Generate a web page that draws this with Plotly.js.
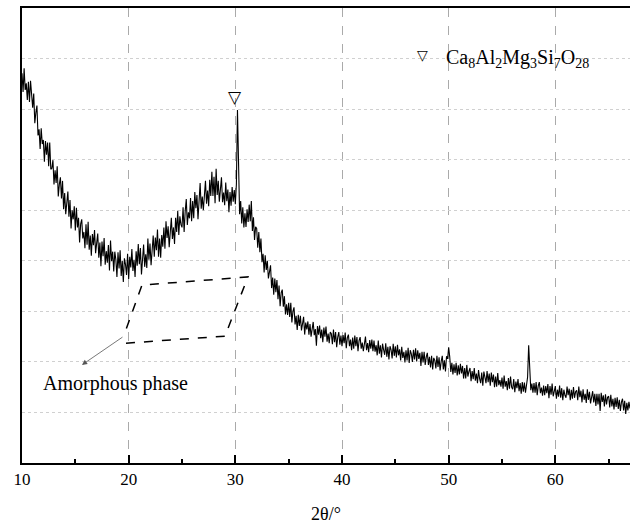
<!DOCTYPE html>
<html>
<head>
<meta charset="utf-8">
<script src="https://cdn.plot.ly/plotly-3.0.1.min.js"></script>
<style>html,body{margin:0;padding:0;background:#fff;}#chart{width:630px;height:524px;}</style>
</head>
<body>
<div id="chart"></div>
<script>
// 2θ (degrees), scan points
const twoTheta = [
10.0,10.1,10.2,10.3,10.4,10.5,10.6,10.7,10.8,10.9,
11.0,11.1,11.2,11.3,11.4,11.5,11.6,11.7,11.8,11.9,
12.0,12.1,12.2,12.3,12.4,12.5,12.6,12.7,12.8,12.9,
13.0,13.1,13.2,13.3,13.4,13.5,13.6,13.7,13.8,13.9,
14.0,14.1,14.2,14.3,14.4,14.5,14.6,14.7,14.8,14.9,
15.0,15.1,15.2,15.3,15.4,15.5,15.6,15.7,15.8,15.9,
16.0,16.1,16.2,16.3,16.4,16.5,16.6,16.7,16.8,16.9,
17.0,17.1,17.2,17.3,17.4,17.5,17.6,17.7,17.8,17.9,
18.0,18.1,18.2,18.3,18.4,18.5,18.6,18.7,18.8,18.9,
19.0,19.1,19.2,19.3,19.4,19.5,19.6,19.7,19.8,19.9,
20.0,20.1,20.2,20.3,20.4,20.5,20.6,20.7,20.8,20.9,
21.0,21.1,21.2,21.3,21.4,21.5,21.6,21.7,21.8,21.9,
22.0,22.1,22.2,22.3,22.4,22.5,22.6,22.7,22.8,22.9,
23.0,23.1,23.2,23.3,23.4,23.5,23.6,23.7,23.8,23.9,
24.0,24.1,24.2,24.3,24.4,24.5,24.6,24.7,24.8,24.9,
25.0,25.1,25.2,25.3,25.4,25.5,25.6,25.7,25.8,25.9,
26.0,26.1,26.2,26.3,26.4,26.5,26.6,26.7,26.8,26.9,
27.0,27.1,27.2,27.3,27.4,27.5,27.6,27.7,27.8,27.9,
28.0,28.1,28.2,28.3,28.4,28.5,28.6,28.7,28.8,28.9,
29.0,29.1,29.2,29.3,29.4,29.5,29.6,29.7,29.8,29.9,
30.0,30.1,30.2,30.3,30.4,30.5,30.6,30.7,30.8,30.9,
31.0,31.1,31.2,31.3,31.4,31.5,31.6,31.7,31.8,31.9,
32.0,32.1,32.2,32.3,32.4,32.5,32.6,32.7,32.8,32.9,
33.0,33.1,33.2,33.3,33.4,33.5,33.6,33.7,33.8,33.9,
34.0,34.1,34.2,34.3,34.4,34.5,34.6,34.7,34.8,34.9,
35.0,35.1,35.2,35.3,35.4,35.5,35.6,35.7,35.8,35.9,
36.0,36.1,36.2,36.3,36.4,36.5,36.6,36.7,36.8,36.9,
37.0,37.1,37.2,37.3,37.4,37.5,37.6,37.7,37.8,37.9,
38.0,38.1,38.2,38.3,38.4,38.5,38.6,38.7,38.8,38.9,
39.0,39.1,39.2,39.3,39.4,39.5,39.6,39.7,39.8,39.9,
40.0,40.1,40.2,40.3,40.4,40.5,40.6,40.7,40.8,40.9,
41.0,41.1,41.2,41.3,41.4,41.5,41.6,41.7,41.8,41.9,
42.0,42.1,42.2,42.3,42.4,42.5,42.6,42.7,42.8,42.9,
43.0,43.1,43.2,43.3,43.4,43.5,43.6,43.7,43.8,43.9,
44.0,44.1,44.2,44.3,44.4,44.5,44.6,44.7,44.8,44.9,
45.0,45.1,45.2,45.3,45.4,45.5,45.6,45.7,45.8,45.9,
46.0,46.1,46.2,46.3,46.4,46.5,46.6,46.7,46.8,46.9,
47.0,47.1,47.2,47.3,47.4,47.5,47.6,47.7,47.8,47.9,
48.0,48.1,48.2,48.3,48.4,48.5,48.6,48.7,48.8,48.9,
49.0,49.1,49.2,49.3,49.4,49.5,49.6,49.7,49.8,49.9,
50.0,50.1,50.2,50.3,50.4,50.5,50.6,50.7,50.8,50.9,
51.0,51.1,51.2,51.3,51.4,51.5,51.6,51.7,51.8,51.9,
52.0,52.1,52.2,52.3,52.4,52.5,52.6,52.7,52.8,52.9,
53.0,53.1,53.2,53.3,53.4,53.5,53.6,53.7,53.8,53.9,
54.0,54.1,54.2,54.3,54.4,54.5,54.6,54.7,54.8,54.9,
55.0,55.1,55.2,55.3,55.4,55.5,55.6,55.7,55.8,55.9,
56.0,56.1,56.2,56.3,56.4,56.5,56.6,56.7,56.8,56.9,
57.0,57.1,57.2,57.3,57.4,57.5,57.6,57.7,57.8,57.9,
58.0,58.1,58.2,58.3,58.4,58.5,58.6,58.7,58.8,58.9,
59.0,59.1,59.2,59.3,59.4,59.5,59.6,59.7,59.8,59.9,
60.0,60.1,60.2,60.3,60.4,60.5,60.6,60.7,60.8,60.9,
61.0,61.1,61.2,61.3,61.4,61.5,61.6,61.7,61.8,61.9,
62.0,62.1,62.2,62.3,62.4,62.5,62.6,62.7,62.8,62.9,
63.0,63.1,63.2,63.3,63.4,63.5,63.6,63.7,63.8,63.9,
64.0,64.1,64.2,64.3,64.4,64.5,64.6,64.7,64.8,64.9,
65.0,65.1,65.2,65.3,65.4,65.5,65.6,65.7,65.8,65.9,
66.0,66.1,66.2,66.3,66.4,66.5,66.6,66.7,66.8,66.9,
67.0
];
// intensity (arbitrary units)
const intensity = [
771,734,781,738,751,718,754,714,756,718,
703,731,672,693,707,648,660,621,662,631,
639,596,637,610,634,587,634,581,583,599,
551,579,554,587,527,551,565,523,558,502,
534,492,518,537,487,520,464,500,482,508,
460,505,466,485,436,473,482,444,457,425,
472,432,477,422,450,410,453,431,461,415,
435,454,406,436,389,438,409,445,392,419,
396,431,381,440,399,418,379,418,402,368,
417,385,421,370,400,358,405,393,372,414,
364,408,387,423,380,402,368,419,390,433,
393,425,373,416,432,388,413,386,444,402,
434,391,428,450,408,446,421,462,408,444,
406,451,428,466,424,478,445,468,427,465,
485,443,466,433,485,457,499,451,488,472,
466,506,457,498,522,471,496,484,524,478,
518,484,536,504,530,482,525,554,503,527,
500,538,558,513,539,508,560,528,576,528,
566,514,582,530,558,517,546,565,516,535,
510,555,518,541,496,536,509,546,517,540,
512,552,698,565,492,518,474,506,466,494,
467,502,477,511,478,518,459,486,441,467,
464,426,457,417,444,397,414,377,411,382,
400,365,378,391,346,367,333,365,338,362,
324,351,310,337,343,309,330,294,314,293,
317,289,317,278,300,308,274,291,263,293,
271,291,262,279,289,254,278,264,280,254,
275,250,270,279,253,265,232,271,254,272,
247,264,239,268,250,270,240,256,237,259,
256,235,264,239,259,229,249,259,234,252,
231,253,237,258,227,248,254,231,244,223,
248,226,252,231,249,221,242,249,226,238,
221,242,250,223,237,219,243,226,244,221,
242,220,233,213,242,216,233,209,236,224,
214,237,210,230,205,231,224,207,236,212,
231,209,234,213,225,203,230,208,220,199,
223,203,228,198,223,216,200,224,205,227,
201,223,206,218,192,220,199,220,194,210,
218,194,210,189,212,185,208,203,187,212,
190,209,183,201,212,185,203,181,211,206,
229,210,180,198,175,195,178,198,173,193,
175,196,177,192,167,188,167,194,171,181,
188,162,182,166,188,163,177,158,184,167,
158,179,153,181,172,158,182,160,177,153,
179,160,175,150,171,151,178,154,164,151,
169,147,173,151,162,144,168,147,171,150,
146,166,140,161,148,166,142,158,137,160,
141,159,139,155,170,233,168,144,157,139,
158,139,160,134,153,160,138,149,133,153,
134,152,138,156,128,152,135,157,132,144,
152,127,145,131,153,129,148,124,145,134,
129,151,134,147,124,145,127,150,129,141,
144,124,151,130,143,120,146,125,137,119,
146,125,141,118,135,142,120,137,113,137,
116,137,103,139,121,134,112,136,116,130,
132,110,135,112,127,106,129,111,130,107,
125,103,121,127,104,123,97,119,104,121,
108
];
// dashed outline of the amorphous hump (2θ, intensity)
const amorphX = [19.75, 29.03, 31.18, 21.25, 19.56];
const amorphY = [237, 251, 368, 352, 253];

const serif = 'Liberation Serif, Times New Roman, serif';

const trace = {
  x: twoTheta, y: intensity, type: 'scatter', mode: 'lines',
  line: {color: '#000', width: 1.1}, hoverinfo: 'skip', showlegend: false
};
const outline = {
  x: amorphX, y: amorphY, type: 'scatter', mode: 'lines',
  line: {color: '#000', width: 1.5, dash: 'dash'}, hoverinfo: 'skip', showlegend: false
};

const layout = {
  width: 630, height: 524,
  margin: {l: 22, r: 0, t: 8, b: 61},
  paper_bgcolor: '#fff', plot_bgcolor: '#fff',
  showlegend: false,
  font: {family: serif, color: '#000', size: 17},
  xaxis: {
    range: [10, 67], tickmode: 'linear', tick0: 0, dtick: 10,
    ticks: 'inside', ticklen: 8, tickwidth: 2, tickcolor: '#000',
    minor: {tickmode: 'linear', tick0: 0, dtick: 5, ticks: 'inside', ticklen: 4, tickwidth: 2, tickcolor: '#000', showgrid: false},
    showline: true, linecolor: '#000', linewidth: 2, mirror: true,
    showgrid: true, gridcolor: '#aaa', gridwidth: 1, griddash: 'dash',
    zeroline: false, tickfont: {family: serif, size: 17, color: '#000'},
    title: {text: '2θ/°', font: {family: serif, size: 18, color: '#000'}, standoff: 21},
    fixedrange: true
  },
  yaxis: {
    range: [0, 900], dtick: 100, showticklabels: false, ticks: '',
    showline: true, linecolor: '#000', linewidth: 2, mirror: false,
    showgrid: true, gridcolor: '#d0d0d0', gridwidth: 1, griddash: 'dot',
    zeroline: false, fixedrange: true
  },
  annotations: [
    {x: 29.95, y: 724, xref: 'x', yref: 'y', text: '▽', showarrow: false,
     font: {family: 'DejaVu Sans', size: 17, color: '#000'}},
    {x: 47.5, y: 808, xref: 'x', yref: 'y', text: '▽', showarrow: false,
     font: {family: 'DejaVu Sans', size: 14, color: '#000'}},
    {x: 49.6, y: 800, xref: 'x', yref: 'y', xanchor: 'left',
     text: 'Ca<sub>8</sub>Al<sub>2</sub>Mg<sub>3</sub>Si<sub>7</sub>O<sub>28</sub>',
     showarrow: false, font: {family: serif, size: 20, color: '#000'}},
    {x: 18.77, y: 158, xref: 'x', yref: 'y', text: 'Amorphous phase', showarrow: false,
     font: {family: serif, size: 20, color: '#000'}},
    {x: 15.62, y: 194, xref: 'x', yref: 'y', ax: 19.56, ay: 251, axref: 'x', ayref: 'y',
     text: '', showarrow: true, arrowhead: 2, arrowsize: 1.3, arrowwidth: 0.8, arrowcolor: '#555'}
  ]
};

Plotly.newPlot('chart', [trace, outline], layout, {staticPlot: true, displayModeBar: false});
</script>
</body>
</html>
